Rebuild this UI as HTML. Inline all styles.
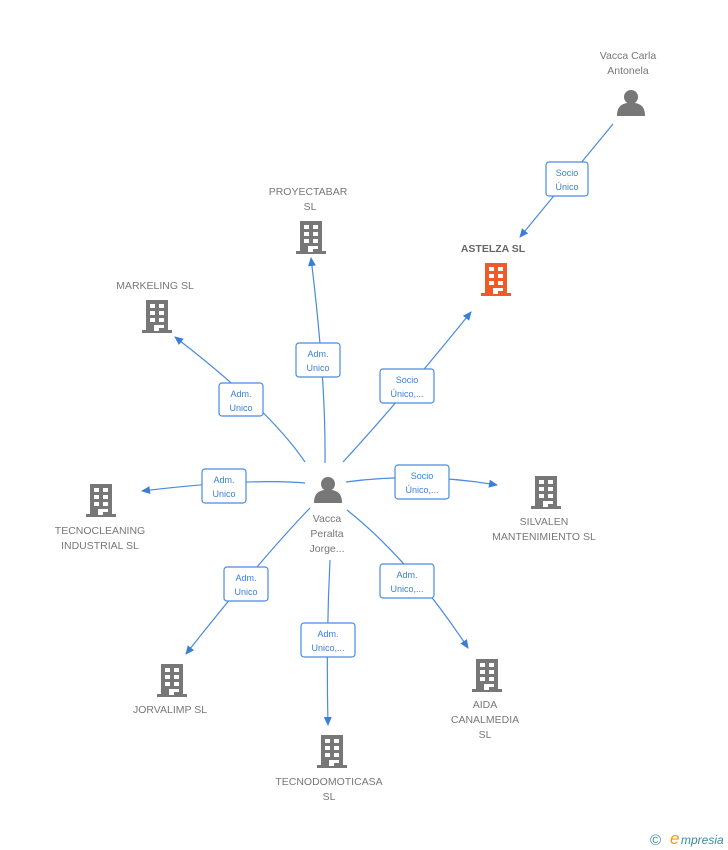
<!DOCTYPE html>
<html><head><meta charset="utf-8"><style>
body{margin:0;background:#fff;width:728px;height:850px;overflow:hidden;font-family:"Liberation Sans",sans-serif}
svg{display:block}
.t{font-size:10.5px;fill:#777;text-anchor:middle}
.l{font-size:9px;fill:#3a7fd5;text-anchor:middle}
.b{fill:#fff;stroke:#4a8ae0;stroke-width:1.2}
.e{fill:none;stroke:#4a8ae0;stroke-width:1.2}
</style></head><body>
<svg width="728" height="850" viewBox="0 0 728 850">
<defs>
<marker id="a" markerWidth="10" markerHeight="10" refX="8" refY="5" orient="auto" markerUnits="userSpaceOnUse"><path d="M0,1 L9,5 L0,9 z" fill="#3a7fd5"/></marker>
<g id="bld">
<path d="M-11,-16 H11 V14 H15 V17 H-15 V14 H-11 Z"/>
<g fill="#fff">
<rect x="-7" y="-12" width="5" height="4"/><rect x="2" y="-12" width="5" height="4"/>
<rect x="-7" y="-5" width="5" height="4"/><rect x="2" y="-5" width="5" height="4"/>
<rect x="-7" y="2" width="5" height="4"/><rect x="2" y="2" width="5" height="4"/>
<rect x="-3" y="9" width="5" height="6"/><rect x="2" y="9" width="5" height="3"/>
</g></g>
<g id="per"><circle cx="0" cy="-6" r="7"/><path d="M-14,13 C-14,3 -9,1 -4,0 L4,0 C9,1 14,3 14,13 Z"/></g>
</defs>
<path class="e" d="M613,124 L520,237" marker-end="url(#a)"/>
<path class="e" d="M325,463 Q326,380 311,258" marker-end="url(#a)"/>
<path class="e" d="M343,462 Q400,400 471,312" marker-end="url(#a)"/>
<path class="e" d="M305,462 Q270,410 175,337" marker-end="url(#a)"/>
<path class="e" d="M305,483 Q250,478 142,491" marker-end="url(#a)"/>
<path class="e" d="M346,482 Q420,472 497,485" marker-end="url(#a)"/>
<path class="e" d="M310,508 Q260,560 186,654" marker-end="url(#a)"/>
<path class="e" d="M330,560 Q326,640 328,725" marker-end="url(#a)"/>
<path class="e" d="M347,510 Q410,560 468,648" marker-end="url(#a)"/>
<g fill="#777">
<use href="#per" x="328" y="490"/><use href="#per" x="631" y="103"/>
<use href="#bld" x="311" y="237"/><use href="#bld" x="157" y="316"/>
<use href="#bld" x="101" y="500"/><use href="#bld" x="546" y="492"/>
<use href="#bld" x="172" y="680"/><use href="#bld" x="332" y="751"/>
<use href="#bld" x="487" y="675"/>
</g>
<use href="#bld" x="496" y="279" fill="#f05a28"/>
<g>
<rect class="b" x="546" y="162" width="42" height="34" rx="3"/><text class="l" x="567" y="176">Socio</text><text class="l" x="567" y="190">Único</text>
<rect class="b" x="296" y="343" width="44" height="34" rx="3"/><text class="l" x="318" y="357">Adm.</text><text class="l" x="318" y="371">Unico</text>
<rect class="b" x="380" y="369" width="54" height="34" rx="3"/><text class="l" x="407" y="383">Socio</text><text class="l" x="407" y="397">Único,...</text>
<rect class="b" x="219" y="383" width="44" height="33" rx="3"/><text class="l" x="241" y="397">Adm.</text><text class="l" x="241" y="411">Unico</text>
<rect class="b" x="202" y="469" width="44" height="34" rx="3"/><text class="l" x="224" y="483">Adm.</text><text class="l" x="224" y="497">Unico</text>
<rect class="b" x="395" y="465" width="54" height="34" rx="3"/><text class="l" x="422" y="479">Socio</text><text class="l" x="422" y="493">Único,...</text>
<rect class="b" x="224" y="567" width="44" height="34" rx="3"/><text class="l" x="246" y="581">Adm.</text><text class="l" x="246" y="595">Unico</text>
<rect class="b" x="301" y="623" width="54" height="34" rx="3"/><text class="l" x="328" y="637">Adm.</text><text class="l" x="328" y="651">Unico,...</text>
<rect class="b" x="380" y="564" width="54" height="34" rx="3"/><text class="l" x="407" y="578">Adm.</text><text class="l" x="407" y="592">Unico,...</text>
</g>
<text class="t" x="628" y="59">Vacca Carla</text><text class="t" x="628" y="74">Antonela</text>
<text class="t" x="308" y="195">PROYECTABAR</text><text class="t" x="310" y="210">SL</text>
<text class="t" x="493" y="252" style="font-weight:bold;fill:#666">ASTELZA SL</text>
<text class="t" x="155" y="289">MARKELING  SL</text>
<text class="t" x="100" y="534">TECNOCLEANING</text><text class="t" x="100" y="549">INDUSTRIAL SL</text>
<text class="t" x="544" y="525">SILVALEN</text><text class="t" x="544" y="540">MANTENIMIENTO SL</text>
<text class="t" x="327" y="522">Vacca</text><text class="t" x="327" y="537">Peralta</text><text class="t" x="327" y="552">Jorge...</text>
<text class="t" x="170" y="713">JORVALIMP  SL</text>
<text class="t" x="485" y="708">AIDA</text><text class="t" x="485" y="723">CANALMEDIA</text><text class="t" x="485" y="738">SL</text>
<text class="t" x="329" y="785">TECNODOMOTICASA</text><text class="t" x="329" y="800">SL</text>
<text x="650" y="845" style="font-size:15px;fill:#3a8aa0">©</text>
<text x="670" y="844" style="font-size:17px;fill:#f39a1e;font-style:italic">e</text>
<text x="681" y="844" style="font-size:12px;fill:#3a8aa0;font-style:italic">mpresia</text>
</svg>
</body></html>
